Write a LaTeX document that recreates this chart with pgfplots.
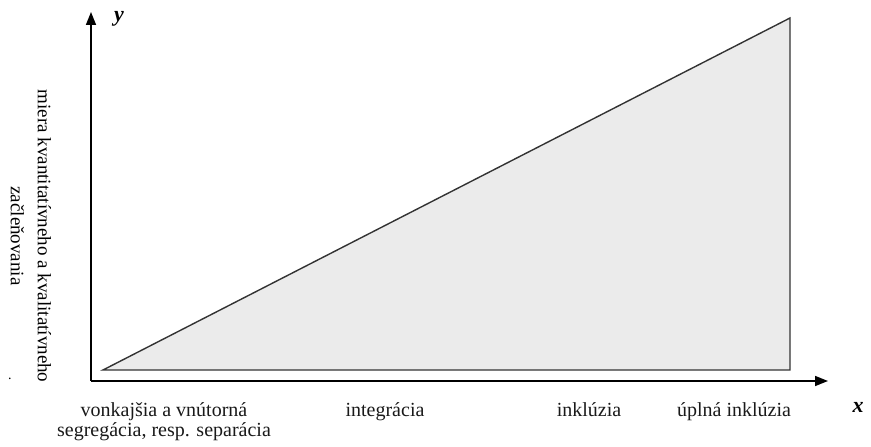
\documentclass[border=0pt]{standalone}
\usepackage{pgfplots}
\pgfplotsset{compat=1.18}
\usetikzlibrary{arrows.meta}
\usepackage{fontspec}
\setmainfont{Liberation Serif}
\begin{document}
\begin{tikzpicture}
\begin{axis}[
  x=1pt, y=1pt,
  xmin=91, xmax=828, ymin=66, ymax=435,
  axis lines=left,
  axis line style={line width=1.6pt, -{Triangle[length=13pt,width=10pt]}},
  clip=false,
  major tick length=0pt,
  ytick=\empty,
  xtick={164,385,589,734},
  xticklabels={{vonkajšia a vnútorná\\segregácia, resp. separácia},integrácia,inklúzia,úplná inklúzia},
  xticklabel style={align=center, anchor=north, yshift=-21pt, font=\fontsize{20}{20.5}\selectfont, inner sep=0pt, text=black!90},
]
\path (axis cs:0,0) rectangle (axis cs:871,447);
\addplot[fill=black!8, draw=black!80, line width=1.4pt] coordinates {(103,77) (790,429) (790,77)} -- cycle;
\node[rotate=-90, align=center, font=\fontsize{19}{27}\selectfont] at (axis cs:31,211) {miera kvantitatívneho a kvalitatívneho\\začleňovania};
\node[font=\fontsize{22}{22}\selectfont\bfseries\itshape] at (axis cs:119,428) {y};
\node[font=\fontsize{22}{22}\selectfont\bfseries\itshape] at (axis cs:858,40) {x};
\node[font=\fontsize{14}{14}\selectfont] at (axis cs:10,68) {.};
\end{axis}
\end{tikzpicture}
\end{document}
